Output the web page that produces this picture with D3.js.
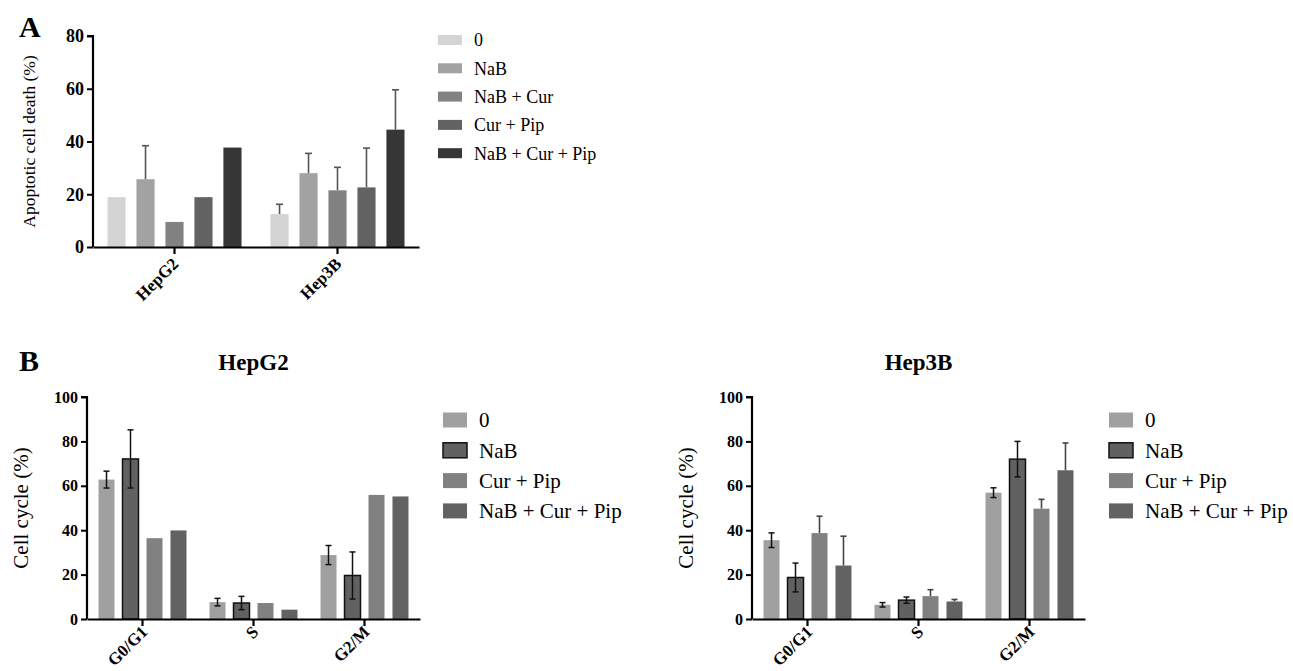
<!DOCTYPE html>
<html>
<head>
<meta charset="utf-8">
<script src="https://cdn.jsdelivr.net/npm/d3@7"></script>
<style>
  html, body { margin: 0; padding: 0; background: #fff; }
  svg { display: block; }
</style>
</head>
<body>
<svg id="chart" width="1293" height="671"></svg>
<script>
// ---------------- DATA ----------------
// Panel A: apoptotic cell death
const aCategories = ["HepG2", "Hep3B"];
const aSeries = ["0", "NaB", "NaB + Cur", "Cur + Pip", "NaB + Cur + Pip"];
const aValues = [            // rows: series, cols: categories
  [18.9, 12.5],
  [25.7, 28.0],
  [9.5, 21.5],
  [18.9, 22.6],
  [37.7, 44.5]
];
const aErrors = [
  [0, 3.7],
  [12.7, 7.5],
  [0, 8.7],
  [0, 14.9],
  [0, 15.1]
];
const aTicks = [0, 20, 40, 60, 80];
const aColors = ["#d4d4d4", "#a2a2a2", "#828282", "#626262", "#363636"];

// Panel B: cell cycle
const bCategories = ["G0/G1", "S", "G2/M"];
const bSeries = ["0", "NaB", "Cur + Pip", "NaB + Cur + Pip"];
const bHepG2Values = [
  [62.8, 7.6, 28.8],
  [72.1, 7.2, 19.6],
  [36.4, 7.2, 55.9],
  [39.9, 4.2, 55.2]
];
const bHepG2Errors = [
  [3.8, 1.7, 4.3],
  [13.1, 3.0, 10.6],
  [0, 0, 0],
  [0, 0, 0]
];
const bHep3BValues = [
  [35.5, 6.4, 56.9],
  [18.7, 8.5, 72.0],
  [38.7, 10.3, 49.7],
  [24.1, 7.9, 67.0]
];
const bHep3BErrors = [
  [3.3, 1.0, 2.2],
  [6.5, 1.4, 8.0],
  [7.6, 2.9, 4.2],
  [13.2, 0.9, 12.3]
];
const bTicks = [0, 20, 40, 60, 80, 100];
const bColors = ["#a0a0a0", "#616161", "#818181", "#626262"];
const bStroke = [null, "#111", null, null];
const bTwoSided = [true, true, false, false];

// ---------------- DRAWING ----------------
const FONT = "'Liberation Serif', 'Times New Roman', Times, serif";
const svg = d3.select("#chart").style("font-family", FONT);

function txt(sel) {
  return sel.style("font-family", FONT);
}

function drawPanel(cfg) {
  const g = svg.append("g");
  const x0 = d3.scaleBand().domain(cfg.categories).range(cfg.xRange).paddingInner(0).paddingOuter(0);
  const x1 = d3.scaleBand().domain(d3.range(cfg.series.length))
    .range([0, x0.bandwidth()]).paddingInner(cfg.pInner).paddingOuter(cfg.pOuter);
  const y = d3.scaleLinear().domain([0, cfg.yMax]).range(cfg.yRange);

  cfg.series.forEach((s, si) => {
    const sg = g.append("g");
    cfg.categories.forEach((c, ci) => {
      const v = cfg.values[si][ci], e = cfg.errors[si][ci];
      const cx = x0(c) + x1(si) + x1.bandwidth() / 2;
      const twoSided = cfg.twoSided ? cfg.twoSided[si] : false;
      if (e > 0 && !twoSided) {
        sg.append("line").attr("x1", cx).attr("x2", cx)
          .attr("y1", y(v)).attr("y2", y(v + e))
          .attr("stroke", cfg.errColor).attr("stroke-width", 1.6);
        sg.append("line").attr("x1", cx - cfg.cap).attr("x2", cx + cfg.cap)
          .attr("y1", y(v + e)).attr("y2", y(v + e))
          .attr("stroke", cfg.errColor).attr("stroke-width", 1.6);
      }
      sg.append("rect")
        .attr("x", x0(c) + x1(si))
        .attr("y", y(v))
        .attr("width", x1.bandwidth())
        .attr("height", y(0) - y(v))
        .attr("fill", cfg.colors[si])
        .attr("stroke", cfg.strokes ? (cfg.strokes[si] || "none") : "none")
        .attr("stroke-width", 1.5);
      if (e > 0 && twoSided) {
        const col = "#111";
        sg.append("line").attr("x1", cx).attr("x2", cx)
          .attr("y1", y(v - e)).attr("y2", y(v + e))
          .attr("stroke", col).attr("stroke-width", 1.5);
        [v - e, v + e].forEach(t => {
          sg.append("line").attr("x1", cx - cfg.cap).attr("x2", cx + cfg.cap)
            .attr("y1", y(t)).attr("y2", y(t))
            .attr("stroke", col).attr("stroke-width", 1.5);
        });
      }
    });
  });

  // y axis
  const yAxis = d3.axisLeft(y).tickValues(cfg.ticks).tickSize(6).tickPadding(3).tickFormat(d3.format("d"));
  const ya = g.append("g").attr("transform", `translate(${cfg.xRange[0]},0)`).call(yAxis);
  ya.attr("font-family", null);
  ya.select(".domain").attr("stroke", "#000").attr("stroke-width", 2.2).attr("d", `M-6,${cfg.yRange[1]}H0V${cfg.yRange[0]}`);
  ya.selectAll(".tick line").attr("stroke", "#000").attr("stroke-width", 2);
  txt(ya.selectAll(".tick text")).attr("font-size", cfg.tickFont).attr("font-weight", "bold")
    .attr("fill", "#000");

  // x axis
  const xAxis = d3.axisBottom(x0).tickSize(7).tickSizeOuter(0);
  const xa = g.append("g").attr("transform", `translate(0,${cfg.yRange[0]})`).call(xAxis);
  xa.attr("font-family", null);
  xa.select(".domain").attr("stroke", "#000").attr("stroke-width", 2.2);
  xa.selectAll(".tick line").attr("stroke", "#000").attr("stroke-width", 2.2);
  txt(xa.selectAll(".tick text"))
    .attr("font-size", cfg.xFont).attr("font-weight", "bold").attr("fill", "#000")
    .attr("text-anchor", "end")
    .attr("y", 0).attr("dy", 0)
    .attr("transform", `translate(${cfg.xLabDx},${cfg.xLabDy}) rotate(-45)`);

  // y label
  txt(g.append("text"))
    .attr("transform", `translate(${cfg.yLabX},${(cfg.yRange[0] + cfg.yRange[1]) / 2}) rotate(-90)`)
    .attr("text-anchor", "middle").attr("dy", "0.35em")
    .attr("font-size", cfg.yLabFont).attr("font-weight", "normal").attr("fill", "#000")
    .text(cfg.yLabel);

  if (cfg.title) {
    txt(g.append("text")).attr("x", (cfg.xRange[0] + cfg.xRange[1]) / 2).attr("y", cfg.titleY)
      .attr("text-anchor", "middle").attr("font-size", 23).attr("font-weight", "bold")
      .attr("fill", "#000").text(cfg.title);
  }

  // legend
  const lg = g.append("g");
  cfg.series.forEach((s, si) => {
    const ly = cfg.legY + si * cfg.legStep;
    lg.append("rect").attr("x", cfg.legX).attr("y", ly - cfg.swH / 2)
      .attr("width", 24).attr("height", cfg.swH)
      .attr("fill", cfg.colors[si])
      .attr("stroke", cfg.strokes ? (cfg.strokes[si] || "none") : "none")
      .attr("stroke-width", 1.5);
    txt(lg.append("text")).attr("x", cfg.legX + 36).attr("y", ly).attr("dy", "0.35em")
      .attr("font-size", cfg.legFont).attr("font-weight", "normal").attr("fill", "#000").text(s);
  });
}

drawPanel({
  categories: aCategories, series: aSeries, values: aValues, errors: aErrors,
  colors: aColors, strokes: null, twoSided: null,
  xRange: [93, 419], yRange: [247, 36], yMax: 80, ticks: aTicks,
  pInner: 0.375, pOuter: 0.5, cap: 3.5, errColor: "#555",
  tickFont: 18, xFont: 17, xLabDx: 5, xLabDy: 18,
  yLabel: "Apoptotic cell death (%)", yLabX: 29, yLabFont: 17.5,
  legX: 438, legY: 40, legStep: 28.3, swH: 10, legFont: 18
});

drawPanel({
  categories: bCategories, series: bSeries, values: bHepG2Values, errors: bHepG2Errors,
  colors: bColors, strokes: bStroke, twoSided: bTwoSided,
  xRange: [87, 420], yRange: [619, 397], yMax: 100, ticks: bTicks,
  pInner: 1 / 3, pOuter: 0.48, cap: 3, errColor: "#444",
  tickFont: 16, xFont: 17, xLabDx: 6, xLabDy: 14,
  yLabel: "Cell cycle (%)", yLabX: 21, yLabFont: 21,
  title: "HepG2", titleY: 370,
  legX: 443, legY: 420, legStep: 30.3, swH: 15, legFont: 21
});

drawPanel({
  categories: bCategories, series: bSeries, values: bHep3BValues, errors: bHep3BErrors,
  colors: bColors, strokes: bStroke, twoSided: bTwoSided,
  xRange: [752, 1085], yRange: [619, 397], yMax: 100, ticks: bTicks,
  pInner: 1 / 3, pOuter: 0.48, cap: 3, errColor: "#444",
  tickFont: 16, xFont: 17, xLabDx: 6, xLabDy: 14,
  yLabel: "Cell cycle (%)", yLabX: 686, yLabFont: 21,
  title: "Hep3B", titleY: 370,
  legX: 1109, legY: 420, legStep: 30.3, swH: 15, legFont: 21
});

txt(svg.append("text")).attr("x", 19).attr("y", 37).attr("font-size", 30).attr("font-weight", "bold").text("A");
txt(svg.append("text")).attr("x", 19).attr("y", 371).attr("font-size", 30).attr("font-weight", "bold").text("B");
</script>
</body>
</html>
